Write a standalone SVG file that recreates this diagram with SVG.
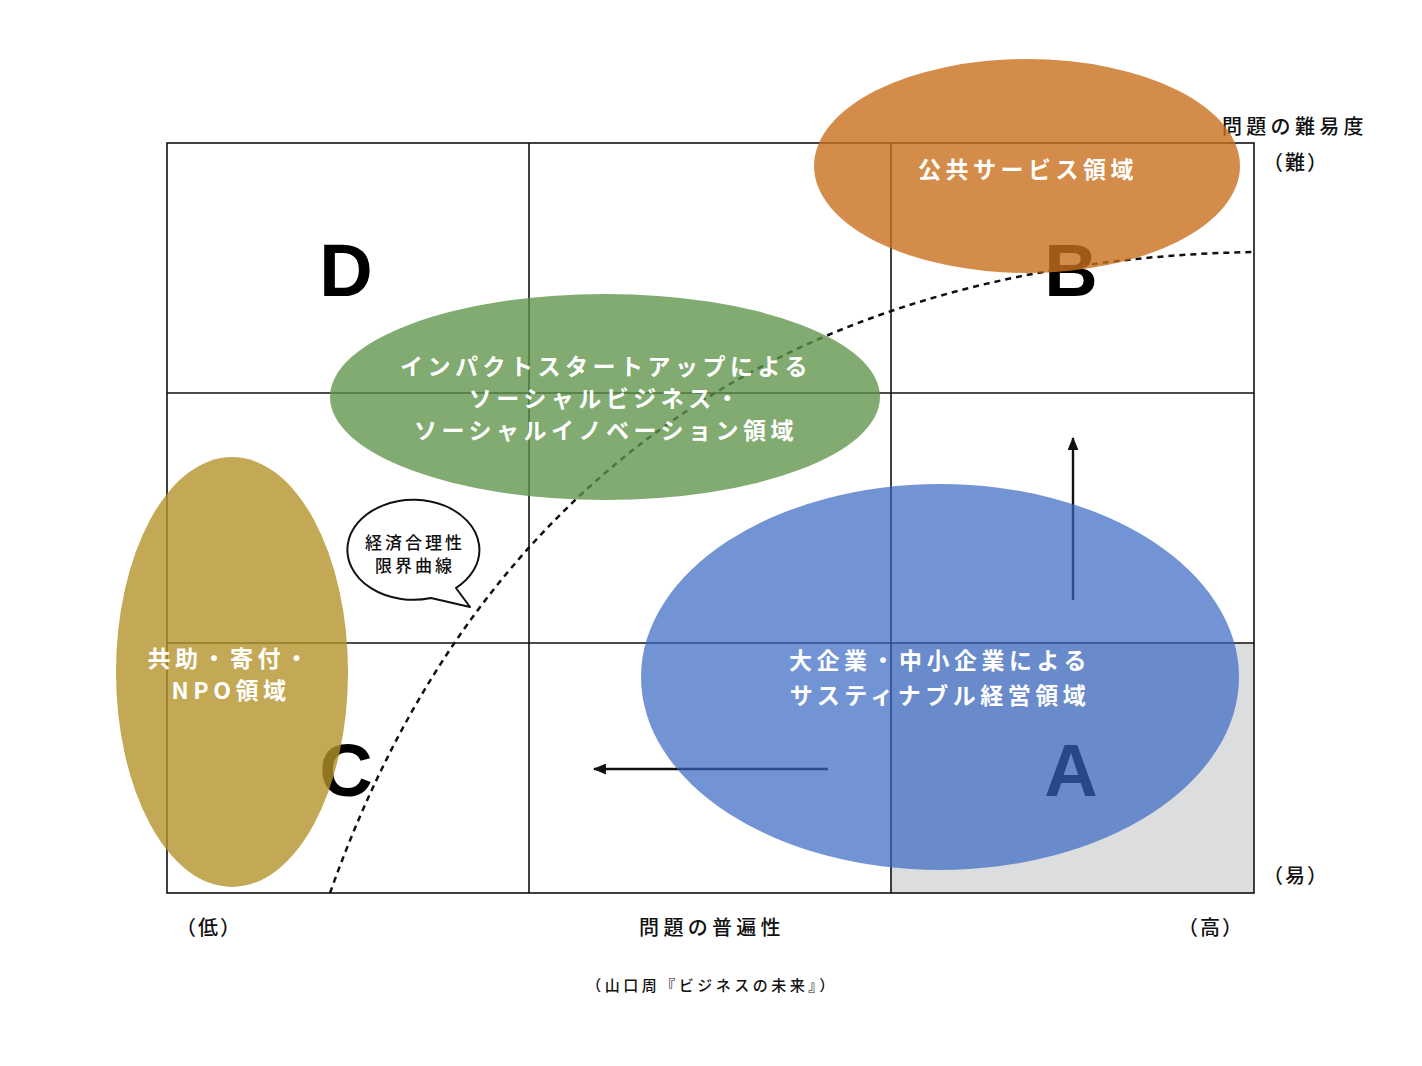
<svg xmlns="http://www.w3.org/2000/svg" width="1422" height="1066" viewBox="0 0 1422 1066">
<defs>
<style>
.grid{fill:none;stroke:#111;stroke-width:1.6}
.big{font-family:"Liberation Sans","Noto Sans",sans-serif;font-weight:bold;font-size:74px;fill:#000;text-anchor:middle}
.lbl{font-family:"Noto Sans CJK JP","Noto Sans",sans-serif;font-weight:500;font-size:20px;fill:#111;letter-spacing:4.3px}
.in{font-family:"Noto Sans CJK JP","Noto Sans",sans-serif;font-weight:bold;font-size:23px;fill:#fff;text-anchor:middle;letter-spacing:4.5px}
.bub{font-family:"Noto Sans CJK JP","Noto Sans",sans-serif;font-weight:500;font-size:17px;fill:#111;text-anchor:middle;letter-spacing:3px}
.arr{stroke:#111;stroke-width:2.4;fill:none}
</style>
<marker id="ah" viewBox="0 0 12 10" refX="11" refY="5" markerWidth="13" markerHeight="11" orient="auto" markerUnits="userSpaceOnUse">
<path d="M0,0 L12,5 L0,10 z" fill="#111"/>
</marker>
</defs>
<rect width="1422" height="1066" fill="#fff"/>
<g id="grid">
<rect x="891" y="643" width="363" height="250" fill="#dcdddf"/>
<rect class="grid" x="167" y="143" width="1087" height="750"/>
<line class="grid" x1="529" y1="143" x2="529" y2="893"/>
<line class="grid" x1="891" y1="143" x2="891" y2="893"/>
<line class="grid" x1="167" y1="393" x2="1254" y2="393"/>
<line class="grid" x1="167" y1="643" x2="1254" y2="643"/>
</g>
<g id="letters">
<text class="big" x="346" y="296">D</text>
<text class="big" x="1071" y="296">B</text>
<text class="big" x="346" y="796">C</text>
<text class="big" x="1071" y="796">A</text>
</g>
<g id="axis-labels">
<text class="lbl" x="1222" y="134">問題の難易度</text>
<text class="lbl" x="1296" y="170" text-anchor="middle" style="letter-spacing:2px">（難）</text>
<text class="lbl" x="1296" y="883" text-anchor="middle" style="letter-spacing:2px">（易）</text>
<text class="lbl" x="209" y="935" text-anchor="middle" style="letter-spacing:2px">（低）</text>
<text class="lbl" x="712" y="935" text-anchor="middle">問題の普遍性</text>
<text class="lbl" x="1211" y="935" text-anchor="middle" style="letter-spacing:2px">（高）</text>
<text class="lbl" x="712" y="991" text-anchor="middle" style="font-size:15px;letter-spacing:3.5px">（山口周『ビジネスの未来』）</text>
</g>
<g id="connectors">
<line class="arr" x1="1073" y1="600" x2="1073" y2="438" marker-end="url(#ah)"/>
<line class="arr" x1="828" y1="769" x2="594" y2="769" marker-end="url(#ah)"/>
<path id="curve" d="M330,893 C480,470 800,260 1254,252" fill="none" stroke="#111" stroke-width="2.5" stroke-dasharray="6,5"/>
</g>
<g id="node-public">
<ellipse cx="1027" cy="166" rx="213" ry="107" fill="#c86f1c" fill-opacity="0.8"/>
<text class="in" x="1028" y="178">公共サービス領域</text>
</g>
<g id="node-social">
<ellipse cx="605" cy="397" rx="275" ry="103" fill="#5e9349" fill-opacity="0.78"/>
<text class="in" x="606" y="375">インパクトスタートアップによる</text>
<text class="in" x="606" y="407">ソーシャルビジネス・</text>
<text class="in" x="606" y="439">ソーシャルイノベーション領域</text>
</g>
<g id="node-npo">
<ellipse cx="232" cy="672" rx="116" ry="215" fill="#b4932c" fill-opacity="0.8"/>
<text class="in" x="230" y="667">共助・寄付・</text>
<text class="in" x="231" y="699">NPO領域</text>
</g>
<g id="node-corp">
<ellipse cx="940" cy="677" rx="299" ry="193" fill="#3867c2" fill-opacity="0.7"/>
<text class="in" x="940" y="669">大企業・中小企業による</text>
<text class="in" x="940" y="704">サスティナブル経営領域</text>
</g>
<g id="node-bubble">
<path d="M456,588 L470,607 L431,598 A66,50 0 1,1 456,588 Z" fill="#fff" stroke="#111" stroke-width="2" stroke-linejoin="round"/>
<text class="bub" x="415" y="549">経済合理性</text>
<text class="bub" x="415" y="572">限界曲線</text>
</g>
</svg>
